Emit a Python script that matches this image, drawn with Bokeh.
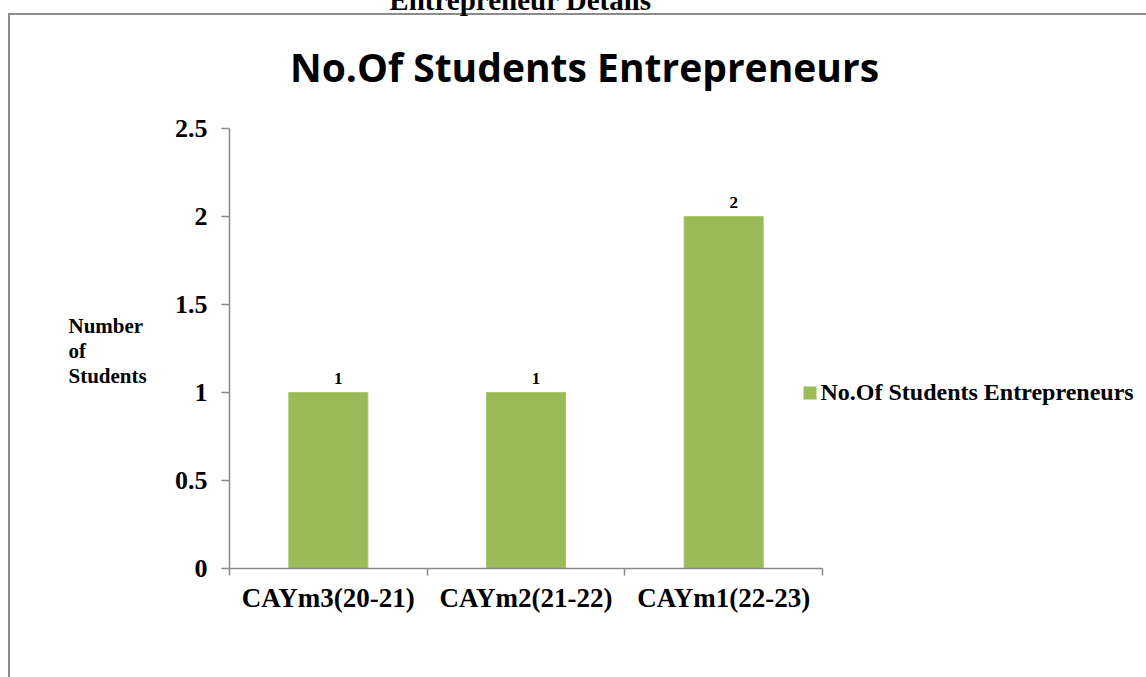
from bokeh.plotting import figure
from bokeh.models import FixedTicker, CustomJSTickFormatter, ColumnDataSource, Range1d
from bokeh.embed import file_html
from bokeh.resources import INLINE
from bokeh.core.properties import value

# ---- data ----
categories = ["CAYm3(20-21)", "CAYm2(21-22)", "CAYm1(22-23)"]
values = [1, 1, 2]
y_ticks = [0, 0.5, 1, 1.5, 2, 2.5]
series_name = "No.Of Students Entrepreneurs"
chart_title = "No.Of Students Entrepreneurs"
page_heading = "Entrepreneur Details"
y_title = "Number\nof\nStudents"

# ---- layout (pixels) ----
W, H = 1146, 677
FL, FR, FT, FB = 229, 822, 128, 568  # frame edges
YMAX = y_ticks[-1]
NCAT = len(categories)
BAR_COLOR = "#9BBB59"
BASELINE_FIX = 0.37  # em shift of Bokeh's alphabetic baseline


def px_to_data(sx, sy):
    return (sx - FL) * NCAT / (FR - FL), (FB - sy) * YMAX / (FB - FT)


def baseline_at(sx, sy, size):
    return px_to_data(sx, sy - BASELINE_FIX * size)


grey = "#8c8c8c"
p = figure(width=W, height=H, output_backend="svg", toolbar_location=None,
           title=None, x_range=Range1d(0, NCAT), y_range=Range1d(0, YMAX),
           min_border_left=FL, min_border_right=W - FR, min_border_top=FT,
           min_border_bottom=H - FB)
p.outline_line_color = None
p.xgrid.visible = False
p.ygrid.visible = False
p.background_fill_color = "white"
p.border_fill_alpha = 0
p.styles = {
    "background-color": "white",
    "background-image": f"linear-gradient({grey}, {grey}), linear-gradient({grey}, {grey})",
    "background-size": "100% 2px, 2px 100%",
    "background-position": "9px 13px, 8px 13px",
    "background-repeat": "no-repeat",
}

xs = [i + 0.5 for i in range(NCAT)]
src = ColumnDataSource(dict(x=xs, top=values, label=[str(v) for v in values]))
bars = p.vbar(x="x", top="top", width=0.4, bottom=0, source=src,
              fill_color=BAR_COLOR, line_color="#A9C86C", line_width=1)

p.text(x="x", y="top", text="label", source=src, text_align="center",
       text_baseline="alphabetic", x_offset=10, y_offset=-14,
       text_font=value("Liberation Serif"), text_font_style="bold",
       text_font_size="17px", text_color="black")

axis_color = "#8a8a8a"
# x axis
xa = p.xaxis[0]
xa.ticker = FixedTicker(ticks=xs, minor_ticks=list(range(NCAT + 1)))
xa.formatter = CustomJSTickFormatter(args=dict(cats=categories),
                                     code="return cats[Math.floor(tick)]")
xa.major_tick_in = 0
xa.major_tick_out = 0
xa.minor_tick_in = 0
xa.minor_tick_out = 7
xa.minor_tick_line_color = axis_color
xa.minor_tick_line_width = 1.5
xa.axis_line_color = axis_color
xa.axis_line_width = 1.5
xa.major_label_standoff = 7
xa.major_label_text_font = "Liberation Serif"
xa.major_label_text_font_style = "bold"
xa.major_label_text_font_size = "27px"
xa.major_label_text_color = "black"

# y axis
ya = p.yaxis[0]
ya.ticker = FixedTicker(ticks=y_ticks, minor_ticks=[])
ya.formatter = CustomJSTickFormatter(code="return String(tick)")
ya.major_tick_in = 0
ya.major_tick_out = 8
ya.major_tick_line_color = axis_color
ya.major_tick_line_width = 1.5
ya.axis_line_color = axis_color
ya.axis_line_width = 1.5
ya.major_label_standoff = 14
ya.major_label_text_font = "Liberation Serif"
ya.major_label_text_font_style = "bold"
ya.major_label_text_font_size = "26px"
ya.major_label_text_color = "black"

# legend, drawn as overlay-level glyphs so that it is not clipped to the frame
gx, gy = px_to_data(809.5, 392.5)
p.scatter(x=[gx], y=[gy], marker="square", size=13, fill_color=BAR_COLOR,
          line_color=None, level="overlay")
lgx, lgy = baseline_at(820, 400, 24)
p.text(x=[lgx], y=[lgy], text=[series_name], text_align="left", text_baseline="alphabetic",
       text_font=value("Liberation Serif"), text_font_style="bold", text_font_size="24px",
       text_color="black", level="overlay")

# free texts drawn as overlay-level text glyphs
tx, ty = baseline_at(584, 80, 39)
p.text(x=[tx], y=[ty], text=[chart_title], text_align="center", text_baseline="alphabetic",
       text_font=value("Open Sans"), text_font_style="bold", text_font_size="39px",
       text_color="black", level="overlay")
hx, hy = baseline_at(520, 10, 29)
p.text(x=[hx], y=[hy], text=[page_heading], text_align="center", text_baseline="alphabetic",
       text_font=value("Liberation Serif"), text_font_style="bold", text_font_size="29px",
       text_color="black", level="overlay")
lx, ly = px_to_data(68, 313)
p.text(x=[lx], y=[ly], text=[y_title], text_align="left", text_baseline="top",
       text_line_height=1.06,
       text_font=value("Liberation Serif"), text_font_style="bold", text_font_size="21px",
       text_color="black", level="overlay")

open("out.html", "w").write(file_html(p, INLINE))
